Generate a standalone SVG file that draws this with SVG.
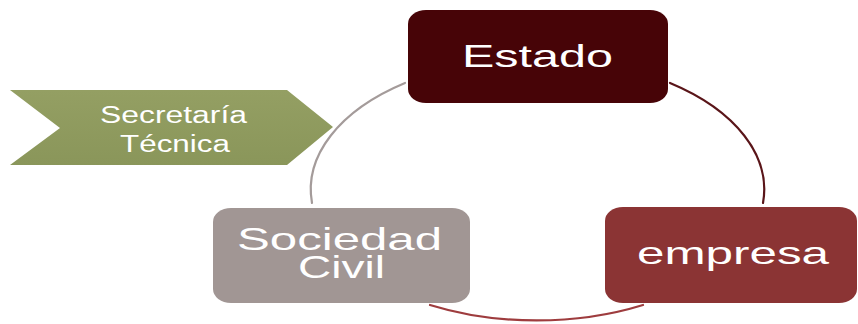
<svg xmlns="http://www.w3.org/2000/svg" width="858" height="324" viewBox="0 0 858 324">
  <style>
    .lbl { font-family: "Liberation Sans", Arial, sans-serif; fill: #ffffff; text-anchor: middle; }
    .big { font-size: 31px; }
    .small { font-size: 24px; }
    .arc { fill: none; stroke-width: 2.2; stroke-linecap: round; }
  </style>
  <defs>
    <linearGradient id="olive" x1="0" y1="0" x2="0" y2="1">
      <stop offset="0" stop-color="#949f63"/>
      <stop offset="1" stop-color="#8a965a"/>
    </linearGradient>
  </defs>
  <rect width="858" height="324" fill="#ffffff"/>

  <g id="secretaria">
    <polygon points="10,90 287,90 333,127 287,165 10,165 60,128" fill="url(#olive)"/>
    <text class="lbl small" transform="translate(173.5,123) scale(1.32,1)" x="0" y="0" textLength="111.4" lengthAdjust="spacingAndGlyphs">Secretaría</text>
    <text class="lbl small" transform="translate(175,152) scale(1.32,1)" x="0" y="0" textLength="83.3" lengthAdjust="spacingAndGlyphs">Técnica</text>
  </g>

  <g id="connectors">
    <path class="arc" stroke="#a49b9a" d="M405,83 A226,131 0 0 0 312,203"/>
    <path class="arc" stroke="#5a1519" d="M670,83 A226,131 0 0 1 763,203"/>
    <path class="arc" stroke="#9e3c3e" d="M430,305 A226,131 0 0 0 643,305"/>
  </g>

  <g id="estado">
    <rect x="408" y="10" width="260" height="93" rx="18" ry="14" fill="#470407"/>
    <text class="lbl big" transform="translate(537.5,67) scale(1.55,1)" x="0" y="0" textLength="97.4" lengthAdjust="spacingAndGlyphs">Estado</text>
  </g>

  <g id="sociedad">
    <rect x="213" y="208" width="257" height="95" rx="18" ry="14" fill="#a19694"/>
    <text class="lbl big" transform="translate(339.5,250) scale(1.55,1)" x="0" y="0" textLength="132.3" lengthAdjust="spacingAndGlyphs">Sociedad</text>
    <text class="lbl big" transform="translate(341.5,278) scale(1.55,1)" x="0" y="0" textLength="56.1" lengthAdjust="spacingAndGlyphs">Civil</text>
  </g>

  <g id="empresa">
    <rect x="605" y="207" width="252" height="96" rx="18" ry="14" fill="#8b3434"/>
    <text class="lbl big" transform="translate(733,264) scale(1.55,1)" x="0" y="0" textLength="123.9" lengthAdjust="spacingAndGlyphs">empresa</text>
  </g>
</svg>
